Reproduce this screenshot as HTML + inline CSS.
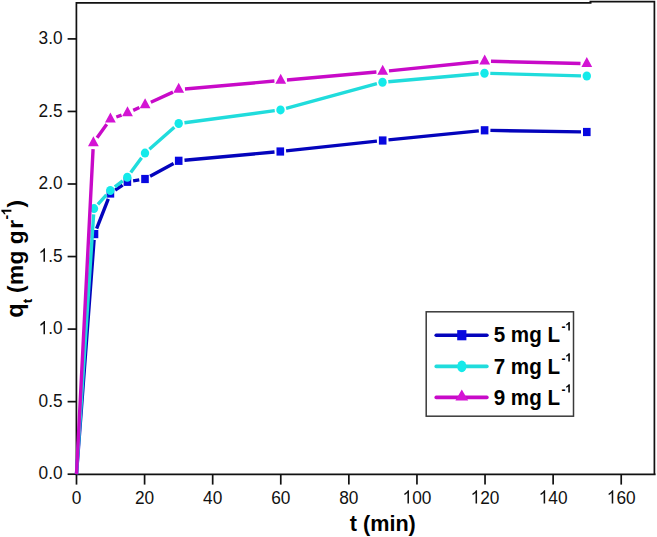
<!DOCTYPE html>
<html><head><meta charset="utf-8"><style>
html,body{margin:0;padding:0;background:#fff;width:657px;height:537px;overflow:hidden}
svg{display:block}
</style></head><body><svg width="657" height="537" viewBox="0 0 657 537"><g stroke="#111" stroke-width="1.7" fill="none"><path d="M76.4 474.3V2.9H591.5"/><path d="M589.5 1.7H654.4V474.3"/><path d="M75.6 474.3H655.6"/><path d="M67.6 474.20H76.4"/><path d="M67.6 401.65H76.4"/><path d="M67.6 329.10H76.4"/><path d="M67.6 256.55H76.4"/><path d="M67.6 184.00H76.4"/><path d="M67.6 111.45H76.4"/><path d="M67.6 38.90H76.4"/><path d="M76.50 474.3V484.6"/><path d="M144.59 474.3V484.6"/><path d="M212.68 474.3V484.6"/><path d="M280.77 474.3V484.6"/><path d="M348.86 474.3V484.6"/><path d="M416.95 474.3V484.6"/><path d="M485.04 474.3V484.6"/><path d="M553.13 474.3V484.6"/><path d="M621.22 474.3V484.6"/></g><g font-family="Liberation Sans, sans-serif"><text transform="translate(38.55 479.30) scale(1.0 1.075)" font-size="17.3" fill="#111">0</text><text transform="translate(48.17 479.30) scale(1.0 1.075)" font-size="17.3" fill="#111">.</text><text transform="translate(52.98 479.30) scale(1.0 1.075)" font-size="17.3" fill="#111">0</text><text transform="translate(38.55 406.75) scale(1.0 1.075)" font-size="17.3" fill="#111">0</text><text transform="translate(48.17 406.75) scale(1.0 1.075)" font-size="17.3" fill="#111">.</text><text transform="translate(52.98 406.75) scale(1.0 1.075)" font-size="17.3" fill="#111">5</text><path transform="translate(38.55 334.20) scale(17.300 -18.598)" d="M0.373 0H0.285V0.560Q0.253 0.530 0.201 0.499T0.107 0.454V0.539Q0.181 0.574 0.236 0.623T0.315 0.716H0.373Z" fill="#111"/><text transform="translate(48.17 334.20) scale(1.0 1.075)" font-size="17.3" fill="#111">.</text><text transform="translate(52.98 334.20) scale(1.0 1.075)" font-size="17.3" fill="#111">0</text><path transform="translate(38.55 261.65) scale(17.300 -18.598)" d="M0.373 0H0.285V0.560Q0.253 0.530 0.201 0.499T0.107 0.454V0.539Q0.181 0.574 0.236 0.623T0.315 0.716H0.373Z" fill="#111"/><text transform="translate(48.17 261.65) scale(1.0 1.075)" font-size="17.3" fill="#111">.</text><text transform="translate(52.98 261.65) scale(1.0 1.075)" font-size="17.3" fill="#111">5</text><text transform="translate(38.55 189.10) scale(1.0 1.075)" font-size="17.3" fill="#111">2</text><text transform="translate(48.17 189.10) scale(1.0 1.075)" font-size="17.3" fill="#111">.</text><text transform="translate(52.98 189.10) scale(1.0 1.075)" font-size="17.3" fill="#111">0</text><text transform="translate(38.55 116.55) scale(1.0 1.075)" font-size="17.3" fill="#111">2</text><text transform="translate(48.17 116.55) scale(1.0 1.075)" font-size="17.3" fill="#111">.</text><text transform="translate(52.98 116.55) scale(1.0 1.075)" font-size="17.3" fill="#111">5</text><text transform="translate(38.55 44.00) scale(1.0 1.075)" font-size="17.3" fill="#111">3</text><text transform="translate(48.17 44.00) scale(1.0 1.075)" font-size="17.3" fill="#111">.</text><text transform="translate(52.98 44.00) scale(1.0 1.075)" font-size="17.3" fill="#111">0</text><text transform="translate(71.69 503.50) scale(1.0 1.075)" font-size="17.3" fill="#111">0</text><text transform="translate(134.97 503.50) scale(1.0 1.075)" font-size="17.3" fill="#111">2</text><text transform="translate(144.59 503.50) scale(1.0 1.075)" font-size="17.3" fill="#111">0</text><text transform="translate(203.06 503.50) scale(1.0 1.075)" font-size="17.3" fill="#111">4</text><text transform="translate(212.68 503.50) scale(1.0 1.075)" font-size="17.3" fill="#111">0</text><text transform="translate(271.15 503.50) scale(1.0 1.075)" font-size="17.3" fill="#111">6</text><text transform="translate(280.77 503.50) scale(1.0 1.075)" font-size="17.3" fill="#111">0</text><text transform="translate(339.24 503.50) scale(1.0 1.075)" font-size="17.3" fill="#111">8</text><text transform="translate(348.86 503.50) scale(1.0 1.075)" font-size="17.3" fill="#111">0</text><path transform="translate(402.52 503.50) scale(17.300 -18.598)" d="M0.373 0H0.285V0.560Q0.253 0.530 0.201 0.499T0.107 0.454V0.539Q0.181 0.574 0.236 0.623T0.315 0.716H0.373Z" fill="#111"/><text transform="translate(412.14 503.50) scale(1.0 1.075)" font-size="17.3" fill="#111">0</text><text transform="translate(421.76 503.50) scale(1.0 1.075)" font-size="17.3" fill="#111">0</text><path transform="translate(470.61 503.50) scale(17.300 -18.598)" d="M0.373 0H0.285V0.560Q0.253 0.530 0.201 0.499T0.107 0.454V0.539Q0.181 0.574 0.236 0.623T0.315 0.716H0.373Z" fill="#111"/><text transform="translate(480.23 503.50) scale(1.0 1.075)" font-size="17.3" fill="#111">2</text><text transform="translate(489.85 503.50) scale(1.0 1.075)" font-size="17.3" fill="#111">0</text><path transform="translate(538.70 503.50) scale(17.300 -18.598)" d="M0.373 0H0.285V0.560Q0.253 0.530 0.201 0.499T0.107 0.454V0.539Q0.181 0.574 0.236 0.623T0.315 0.716H0.373Z" fill="#111"/><text transform="translate(548.32 503.50) scale(1.0 1.075)" font-size="17.3" fill="#111">4</text><text transform="translate(557.94 503.50) scale(1.0 1.075)" font-size="17.3" fill="#111">0</text><path transform="translate(606.79 503.50) scale(17.300 -18.598)" d="M0.373 0H0.285V0.560Q0.253 0.530 0.201 0.499T0.107 0.454V0.539Q0.181 0.574 0.236 0.623T0.315 0.716H0.373Z" fill="#111"/><text transform="translate(616.41 503.50) scale(1.0 1.075)" font-size="17.3" fill="#111">6</text><text transform="translate(626.03 503.50) scale(1.0 1.075)" font-size="17.3" fill="#111">0</text></g><text transform="translate(382.8 530.5) scale(0.982 1)" text-anchor="middle" font-family="Liberation Sans, sans-serif" font-weight="bold" font-size="22" fill="#000">t (min)</text><g font-family="Liberation Sans, sans-serif" font-weight="bold" fill="#000"><text transform="translate(22.8 317.8) rotate(-90)" font-size="23.6">q</text><text transform="translate(32.0 303.2) rotate(-90)" font-size="13.5">t</text><text transform="translate(22.8 293.1) rotate(-90)" font-size="22.6">(</text><text transform="translate(22.8 284.9) rotate(-90)" font-size="22.6">m</text><text transform="translate(22.8 264.4) rotate(-90)" font-size="22.6">g</text><text transform="translate(22.8 244.2) rotate(-90)" font-size="22.6">g</text><text transform="translate(22.8 228.7) rotate(-90)" font-size="22.6">r</text><text transform="translate(11.4 219.5) rotate(-90)" font-size="14">-</text><path transform="translate(11.4 215.5) rotate(-90) scale(14 -14)" d="M0.405 0H0.268V0.516Q0.193 0.446 0.091 0.412V0.537Q0.145 0.555 0.208 0.604Q0.271 0.653 0.294 0.716H0.405Z" fill="#000"/><text transform="translate(22.8 207.4) rotate(-90)" font-size="22.6">)</text></g><path d="M76.50 474.20L94.07 239.88M96.62 228.70L108.28 198.90M115.18 190.21L122.62 185.09M133.13 180.89L139.27 179.91M150.10 176.24L173.60 163.56M184.48 160.27L274.52 152.03M286.07 150.88L376.93 141.12M388.47 139.92L478.83 130.88M490.40 130.40L581.00 131.90" stroke="#0404bc" stroke-width="3.4" stroke-linecap="butt" fill="none"/><rect x="90.70" y="230.00" width="7.6" height="8.2" fill="#0808e0"/><rect x="106.60" y="189.40" width="7.6" height="8.2" fill="#0808e0"/><rect x="123.60" y="177.70" width="7.6" height="8.2" fill="#0808e0"/><rect x="141.20" y="174.90" width="7.6" height="8.2" fill="#0808e0"/><rect x="174.90" y="156.70" width="7.6" height="8.2" fill="#0808e0"/><rect x="276.50" y="147.40" width="7.6" height="8.2" fill="#0808e0"/><rect x="378.90" y="136.40" width="7.6" height="8.2" fill="#0808e0"/><rect x="480.80" y="126.20" width="7.6" height="8.2" fill="#0808e0"/><rect x="583.00" y="127.90" width="7.6" height="8.2" fill="#0808e0"/><path d="M76.50 474.20L93.62 214.39M97.88 204.29L106.42 194.81M114.88 186.94L122.72 180.86M130.72 172.62L141.58 157.78M149.36 149.27L174.34 127.33M184.45 122.73L274.75 110.67M286.10 108.38L376.90 83.72M388.28 81.69L478.72 73.71M490.30 73.36L581.00 75.84" stroke="#20dcdc" stroke-width="3.4" stroke-linecap="butt" fill="none"/><ellipse cx="94.00" cy="208.60" rx="4.2" ry="4.5" fill="#14eaea"/><ellipse cx="110.30" cy="190.50" rx="4.2" ry="4.5" fill="#14eaea"/><ellipse cx="127.30" cy="177.30" rx="4.2" ry="4.5" fill="#14eaea"/><ellipse cx="145.00" cy="153.10" rx="4.2" ry="4.5" fill="#14eaea"/><ellipse cx="178.70" cy="123.50" rx="4.2" ry="4.5" fill="#14eaea"/><ellipse cx="280.50" cy="109.90" rx="4.2" ry="4.5" fill="#14eaea"/><ellipse cx="382.50" cy="82.20" rx="4.2" ry="4.5" fill="#14eaea"/><ellipse cx="484.50" cy="73.20" rx="4.2" ry="4.5" fill="#14eaea"/><ellipse cx="586.80" cy="76.00" rx="4.2" ry="4.5" fill="#14eaea"/><path d="M76.50 474.20L93.08 149.19M97.06 137.77L106.74 124.23M116.33 116.98L121.57 115.12M133.21 110.34L139.39 107.46M150.83 102.19L172.97 92.11M184.98 88.95L274.42 81.05M286.98 79.95L376.42 72.05M388.97 70.86L478.43 61.74M491.00 61.26L580.50 63.54" stroke="#c80ac8" stroke-width="3.4" stroke-linecap="butt" fill="none"/><path d="M93.40 136.23L98.80 146.23L88.00 146.23ZM110.40 112.43L115.80 122.43L105.00 122.43ZM127.50 106.33L132.90 116.33L122.10 116.33ZM145.10 98.13L150.50 108.13L139.70 108.13ZM178.70 82.83L184.10 92.83L173.30 92.83ZM280.70 73.83L286.10 83.83L275.30 83.83ZM382.70 64.83L388.10 74.83L377.30 74.83ZM484.70 54.43L490.10 64.43L479.30 64.43ZM586.80 57.03L592.20 67.03L581.40 67.03Z" fill="#d414d4"/><rect x="426.2" y="311.8" width="147.3" height="104.4" fill="#fff" stroke="#3a3a3a" stroke-width="1.5"/><line x1="436.2" y1="335.2" x2="486.9" y2="335.2" stroke="#0404bc" stroke-width="3.6" stroke-linecap="round"/><rect x="457.2" y="330.09999999999997" width="9.2" height="10.2" fill="#0808e0"/><text transform="translate(493.7 342.4) scale(1 1.05)" font-family="Liberation Sans, sans-serif" font-weight="bold" font-size="20.6" fill="#000">5 mg L</text><text transform="translate(561.5999999999999 331.4)" font-family="Liberation Sans, sans-serif" font-weight="bold" font-size="12" fill="#000">-</text><path transform="translate(565.20 330.4) scale(11.5 -11.8)" d="M0.405 0H0.268V0.516Q0.193 0.446 0.091 0.412V0.537Q0.145 0.555 0.208 0.604Q0.271 0.653 0.294 0.716H0.405Z" fill="#000"/><line x1="436.2" y1="366.4" x2="486.9" y2="366.4" stroke="#20dcdc" stroke-width="3.6" stroke-linecap="round"/><ellipse cx="461.8" cy="366.4" rx="4.6" ry="5.8" fill="#14eaea"/><text transform="translate(493.7 373.59999999999997) scale(1 1.05)" font-family="Liberation Sans, sans-serif" font-weight="bold" font-size="20.6" fill="#000">7 mg L</text><text transform="translate(561.5999999999999 362.59999999999997)" font-family="Liberation Sans, sans-serif" font-weight="bold" font-size="12" fill="#000">-</text><path transform="translate(565.20 361.59999999999997) scale(11.5 -11.8)" d="M0.405 0H0.268V0.516Q0.193 0.446 0.091 0.412V0.537Q0.145 0.555 0.208 0.604Q0.271 0.653 0.294 0.716H0.405Z" fill="#000"/><line x1="436.2" y1="397.4" x2="486.9" y2="397.4" stroke="#c80ac8" stroke-width="3.6" stroke-linecap="round"/><path d="M461.8 389.4L468.2 400.4L455.40000000000003 400.4Z" fill="#d414d4"/><text transform="translate(493.7 404.59999999999997) scale(1 1.05)" font-family="Liberation Sans, sans-serif" font-weight="bold" font-size="20.6" fill="#000">9 mg L</text><text transform="translate(561.5999999999999 393.59999999999997)" font-family="Liberation Sans, sans-serif" font-weight="bold" font-size="12" fill="#000">-</text><path transform="translate(565.20 392.59999999999997) scale(11.5 -11.8)" d="M0.405 0H0.268V0.516Q0.193 0.446 0.091 0.412V0.537Q0.145 0.555 0.208 0.604Q0.271 0.653 0.294 0.716H0.405Z" fill="#000"/></svg></body></html>
